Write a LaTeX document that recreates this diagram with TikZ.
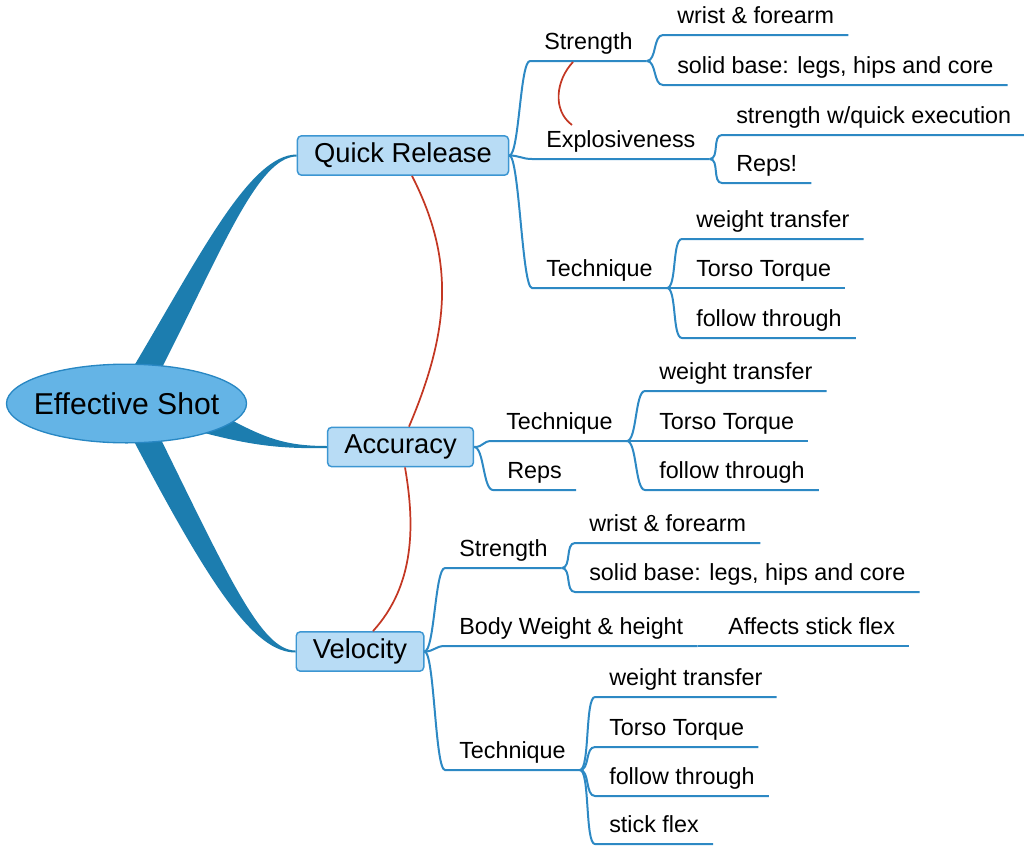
\documentclass[tikz,border=0pt]{standalone}
\usepackage{fontspec}
\setmainfont{Liberation Sans}
\usetikzlibrary{shapes.geometric,calc,backgrounds}

\definecolor{lineblue}{RGB}{45,137,196}
\definecolor{trunkblue}{RGB}{28,125,175}
\definecolor{boxfill}{RGB}{184,220,245}
\definecolor{boxline}{RGB}{60,150,210}
\definecolor{rootfill}{RGB}{100,180,230}
\definecolor{rootline}{RGB}{40,135,195}
\definecolor{relred}{RGB}{195,55,35}

\tikzset{
	root/.style={ellipse, draw=rootline, fill=rootfill, line width=1pt, minimum width=180pt, minimum height=59pt, inner sep=0pt, font=\fontsize{22.6}{26}\selectfont},
	topic/.style={draw=boxline, fill=boxfill, rounded corners=3pt, line width=1.1pt, minimum height=29.5pt, inner xsep=12.5pt, inner ysep=0pt, font=\fontsize{20.5}{24}\selectfont},
	leaf/.style={anchor=south west, inner xsep=10.5pt, inner ysep=0pt, text depth=8.6pt, font=\fontsize{17.5}{21}\selectfont},
	sub/.style={draw=lineblue, line width=1.5pt, to path={.. controls ($(\tikztostart)+(10,0)$) and ($(\tikztotarget)+(-10,0)$) .. (\tikztotarget)}},
	trunk/.style={fill=trunkblue},
	rel/.style={draw=relred, line width=1.3pt}
}

\begin{document}
\begin{tikzpicture}[x=0.75pt, y=-0.75pt]
	
		\useasboundingbox (0,0) rectangle (1024,846);
		
		% centre and topics
		\node[root] (es) at (126.5,403.5) {\makebox[0pt]{Effective Shot}};
		\node[topic] (qr) at (403,155.5) {Quick Release};
		\node[topic] (acc) at (400.5,447) {Accuracy};
		\node[topic] (vel) at (360,651.5) {Velocity};
		
		% Quick Release
		\node[leaf] (qs) at (530,61) {Strength};
			\node[leaf] (qs1) at (663,35) {wrist \& forearm};
			\node[leaf] (qs2) at (663,85) {solid base: legs, hips and core};
		\node[leaf] (qe) at (532,159) {Explosiveness};
			\node[leaf] (qe1) at (722,135) {strength w/quick execution};
			\node[leaf] (qe2) at (722,183) {Reps!};
		\node[leaf] (qt) at (532,288) {Technique};
			\node[leaf] (qt1) at (682,239) {weight transfer};
			\node[leaf] (qt2) at (682,288) {Torso Torque};
			\node[leaf] (qt3) at (682,338) {follow through};
		
		% Accuracy
		\node[leaf] (at) at (492,441) {Technique};
			\node[leaf] (at1) at (645,391) {weight transfer};
			\node[leaf] (at2) at (645,441) {Torso Torque};
			\node[leaf] (at3) at (645,490) {follow through};
		\node[leaf] (ar) at (493,490) {Reps};
		
		% Velocity
		\node[leaf] (vs) at (445,568) {Strength};
			\node[leaf] (vs1) at (575,543) {wrist \& forearm};
			\node[leaf] (vs2) at (575,592) {solid base: legs, hips and core};
		\node[leaf] (vb) at (445,646) {Body Weight \& height};
			\node[leaf] (va) at (714,646) {Affects stick flex};
		\node[leaf] (vt) at (445,770) {Technique};
			\node[leaf] (vt1) at (595,697) {weight transfer};
			\node[leaf] (vt2) at (595,747) {Torso Torque};
			\node[leaf] (vt3) at (595,796) {follow through};
			\node[leaf] (vt4) at (595,844) {stick flex};
		
		%draw main branches
		\begin{scope}[on background layer]
		\fill[trunk] ($(es.center)+(6,-35)$) .. controls (200,255) and (250,154.5) .. ($(qr.west)+(0,-1)$)
			-- ($(qr.west)+(0,1)$) .. controls (258,156.5) and (222,250) .. ($(es.center)+(35,-35)$) -- cycle;
		\fill[trunk] ($(es.center)+(100,14)$) .. controls (265,438) and (285,446) .. ($(acc.west)+(0,-1)$)
			-- ($(acc.west)+(0,1)$) .. controls (280,449) and (250,445) .. ($(es.center)+(76,29)$) -- cycle;
		\fill[trunk] ($(es.center)+(6,35)$) .. controls (212,590) and (255,652.5) .. ($(vel.west)+(0,1)$)
			-- ($(vel.west)+(0,-1)$) .. controls (262,650.5) and (230,580) .. ($(es.center)+(34,35)$) -- cycle;
		\end{scope}
		
		%draw Quick Release
		\draw[sub] (qr.east) to (qs.south west) -- (qs.south east);
		\draw[sub] (qs.south east) to (qs1.south west) -- (qs1.south east);
		\draw[sub] (qs.south east) to (qs2.south west) -- (qs2.south east);
		\draw[sub] (qr.east) to (qe.south west) -- (qe.south east);
		\draw[sub] (qe.south east) to (qe1.south west) -- (qe1.south east);
		\draw[sub] (qe.south east) to (qe2.south west) -- (qe2.south east);
		\draw[sub] (qr.east) to (qt.south west) -- (qt.south east);
		\draw[sub] (qt.south east) to (qt1.south west) -- (qt1.south east);
		\draw[sub] (qt.south east) to (qt2.south west) -- (qt2.south east);
		\draw[sub] (qt.south east) to (qt3.south west) -- (qt3.south east);
		
		%draw Accuracy
		\draw[sub] (acc.east) to (at.south west) -- (at.south east);
		\draw[sub] (at.south east) to (at1.south west) -- (at1.south east);
		\draw[sub] (at.south east) to (at2.south west) -- (at2.south east);
		\draw[sub] (at.south east) to (at3.south west) -- (at3.south east);
		\draw[sub] (acc.east) to (ar.south west) -- (ar.south east);
		
		%draw Velocity
		\draw[sub] (vel.east) to (vs.south west) -- (vs.south east);
		\draw[sub] (vs.south east) to (vs1.south west) -- (vs1.south east);
		\draw[sub] (vs.south east) to (vs2.south west) -- (vs2.south east);
		\draw[sub] (vel.east) to (vb.south west) -- (vb.south east);
		\draw[sub] (vb.south east) to (va.south west) -- (va.south east);
		\draw[sub] (vel.east) to (vt.south west) -- (vt.south east);
		\draw[sub] (vt.south east) to (vt1.south west) -- (vt1.south east);
		\draw[sub] (vt.south east) to (vt2.south west) -- (vt2.south east);
		\draw[sub] (vt.south east) to (vt3.south west) -- (vt3.south east);
		\draw[sub] (vt.south east) to (vt4.south west) -- (vt4.south east);
		
		% relations
		\draw[rel] ($(qr.south)+(9,0)$) .. controls (455,260) and (450,330) .. ($(acc.north)+(8.5,0)$);
		\draw[rel] ($(acc.south)+(4.5,0)$) .. controls (415,525) and (415,585) .. ($(vel.north)+(13,0)$);
		\draw[rel] ($(qs.south west)+(43,1)$) .. controls (556,80) and (552,110) .. ($(qe.south west)+(40,-34)$);
	
	\end{tikzpicture}
\end{document}
